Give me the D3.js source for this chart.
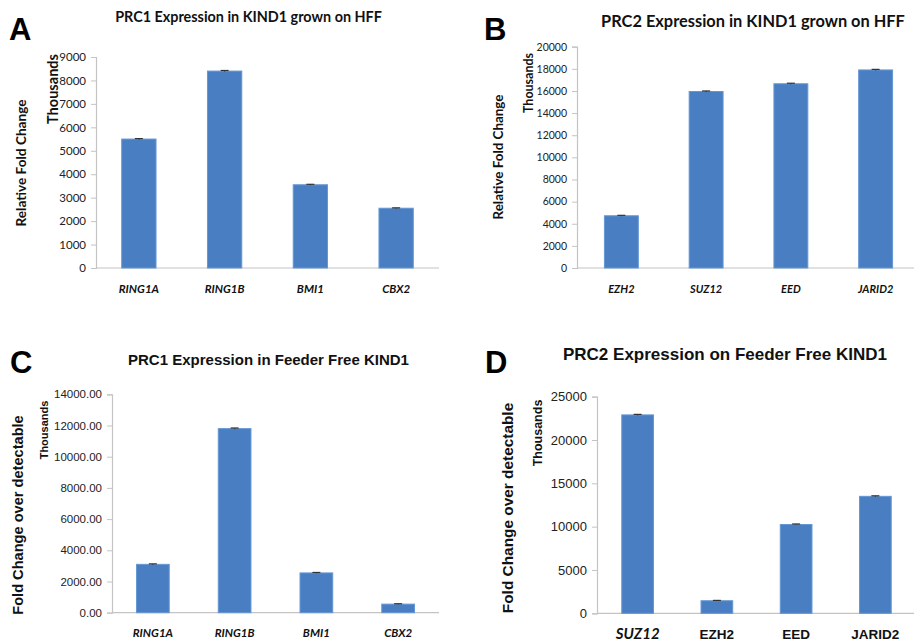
<!DOCTYPE html>
<html>
<head>
<meta charset="utf-8">
<script src="https://cdn.jsdelivr.net/npm/d3@7"></script>
<style>
  html, body { margin: 0; padding: 0; background: #fff; }
  svg { display: block; }
</style>
</head>
<body>
<svg id="chart" width="914" height="642"></svg>
<script>
// ---------- DATA ----------
const prc1HffGenes = ["RING1A", "RING1B", "BMI1", "CBX2"];
const prc1HffValues = [5500, 8400, 3550, 2550];
const prc1HffErrors = [20, 25, 20, 15];
const prc1HffTicks = [0, 1000, 2000, 3000, 4000, 5000, 6000, 7000, 8000, 9000];

const prc2HffGenes = ["EZH2", "SUZ12", "EED", "JARID2"];
const prc2HffValues = [4720, 15950, 16650, 17900];
const prc2HffErrors = [40, 50, 50, 50];
const prc2HffTicks = [0, 2000, 4000, 6000, 8000, 10000, 12000, 14000, 16000, 18000, 20000];

const prc1FfGenes = ["RING1A", "RING1B", "BMI1", "CBX2"];
const prc1FfValues = [3100, 11800, 2550, 550];
const prc1FfErrors = [30, 40, 30, 25];
const prc1FfTicks = [0, 2000, 4000, 6000, 8000, 10000, 12000, 14000];

const prc2FfGenes = ["SUZ12", "EZH2", "EED", "JARID2"];
const prc2FfValues = [22900, 1450, 10250, 13500];
const prc2FfErrors = [60, 40, 60, 60];
const prc2FfTicks = [0, 5000, 10000, 15000, 20000, 25000];

// ---------- STYLE / LAYOUT ----------
const BAR_FILL = "#4a7ec2";
const BAR_STROKE = "#6597d4";
const AXIS_COLOR = "#c4c4c4";
const CALIBRI = "Lato, 'Open Sans', sans-serif";
const ARIAL = "'Liberation Sans', Arial, sans-serif";

const svg = d3.select("#chart");

// scale font-size so the natural text width equals the target width
function fitWidth(sel, size, len) {
  if (!len) return;
  const w = sel.node().getComputedTextLength();
  if (w > 0) sel.style("font-size", (size * len / w).toFixed(2) + "px");
}

function panel(cfg) {
  const g = svg.append("g");
  const x = d3.scaleBand().domain(cfg.genes).range([cfg.x0, cfg.x1])
    .paddingInner(0.6).paddingOuter(0.3);
  const y = d3.scaleLinear().domain([0, cfg.ymax]).range([cfg.yBottom, cfg.yTop]);

  // y axis
  const yAxis = d3.axisLeft(y).tickValues(cfg.ticks).tickSize(5).tickPadding(5)
    .tickFormat(d3.format(cfg.fmt));
  const ya = g.append("g").attr("transform", `translate(${cfg.axisX},0)`).call(yAxis);
  ya.select(".domain").attr("stroke", AXIS_COLOR).attr("stroke-width", 1.2);
  ya.selectAll(".tick line").attr("stroke", AXIS_COLOR);
  ya.selectAll(".tick text").attr("fill", "#222")
    .style("font-family", cfg.tickFont).style("font-size", cfg.tickSize + "px");
  // x axis line
  g.append("line").attr("x1", cfg.axisX).attr("x2", cfg.x1)
    .attr("y1", y(0)).attr("y2", y(0))
    .attr("stroke", AXIS_COLOR).attr("stroke-width", 1.2);

  // bars
  g.selectAll("rect.bar").data(cfg.genes).join("rect").attr("class", "bar")
    .attr("x", d => x(d)).attr("width", x.bandwidth())
    .attr("y", (d, i) => y(cfg.values[i]))
    .attr("height", (d, i) => y(0) - y(cfg.values[i]))
    .attr("fill", BAR_FILL).attr("stroke", BAR_STROKE).attr("stroke-width", 1);

  // error bars
  cfg.genes.forEach((d, i) => {
    const cx = x(d) + x.bandwidth() / 2;
    const top = y(cfg.values[i] + cfg.errors[i]);
    const bot = y(cfg.values[i] - cfg.errors[i]);
    g.append("line").attr("x1", cx).attr("x2", cx).attr("y1", top).attr("y2", bot)
      .attr("stroke", "#333").attr("stroke-width", 1);
    g.append("line").attr("x1", cx - 4).attr("x2", cx + 4).attr("y1", top).attr("y2", top)
      .attr("stroke", "#333").attr("stroke-width", 1.2);
  });

  // x labels
  g.selectAll("text.xl").data(cfg.genes).join("text").attr("class", "xl")
    .attr("x", d => x(d) + x.bandwidth() / 2).attr("y", cfg.xLabelY)
    .attr("text-anchor", "middle")
    .style("font-family", (d, i) => cfg.xLabelStyle(i).font)
    .style("font-size", (d, i) => cfg.xLabelStyle(i).size + "px")
    .style("font-style", (d, i) => cfg.xLabelStyle(i).italic ? "italic" : "normal")
    .style("font-weight", "bold").attr("fill", "#111")
    .text(d => d);

  // title
  const t = g.append("text").attr("x", cfg.title.x).attr("y", cfg.title.y)
    .attr("text-anchor", "middle")
    .style("font-family", cfg.title.font).style("font-size", cfg.title.size + "px")
    .style("font-weight", "bold").attr("fill", "#111").text(cfg.title.text);
  fitWidth(t, cfg.title.size, cfg.title.len);

  // panel letter
  g.append("text").attr("x", cfg.letter.x).attr("y", cfg.letter.y)
    .style("font-family", ARIAL).style("font-size", "31px").style("font-weight", "bold")
    .attr("fill", "#000").text(cfg.letter.text);

  // rotated labels
  [cfg.yTitle, cfg.thousands].forEach(lb => {
    const tt = g.append("text")
      .attr("transform", `translate(${lb.x},${lb.y}) rotate(-90)`)
      .attr("text-anchor", "middle").attr("dominant-baseline", "central")
      .style("font-family", lb.font).style("font-size", lb.size + "px")
      .style("font-weight", "bold").attr("fill", "#111").text(lb.text);
    fitWidth(tt, lb.size, lb.len);
  });
}

// Panel A
panel({
  genes: prc1HffGenes, values: prc1HffValues, errors: prc1HffErrors, ticks: prc1HffTicks,
  ymax: 9000, fmt: "d", x0: 96, x1: 439, axisX: 96, yTop: 57, yBottom: 268,
  tickFont: CALIBRI, tickSize: 11.5, xLabelY: 293,
  xLabelStyle: () => ({ font: CALIBRI, size: 11.5, italic: true }),
  title: { text: "PRC1 Expression in KIND1 grown on HFF", x: 248.5, y: 22, size: 16, font: CALIBRI, len: 267 },
  letter: { text: "A", x: 9, y: 40 },
  yTitle: { text: "Relative Fold  Change", x: 21, y: 163, size: 12.5, font: CALIBRI, len: 127 },
  thousands: { text: "Thousands", x: 52, y: 89, size: 12.5, font: CALIBRI, len: 70 }
});

// Panel B
panel({
  genes: prc2HffGenes, values: prc2HffValues, errors: prc2HffErrors, ticks: prc2HffTicks,
  ymax: 20000, fmt: "d", x0: 579, x1: 918, axisX: 577, yTop: 46.7, yBottom: 268,
  tickFont: CALIBRI, tickSize: 10.5, xLabelY: 293,
  xLabelStyle: () => ({ font: CALIBRI, size: 11, italic: true }),
  title: { text: "PRC2 Expression in KIND1 grown on HFF", x: 753, y: 27, size: 18, font: CALIBRI, len: 304 },
  letter: { text: "B", x: 484, y: 40 },
  yTitle: { text: "Relative Fold Change", x: 498, y: 157, size: 12.5, font: CALIBRI, len: 125 },
  thousands: { text: "Thousands", x: 528, y: 83, size: 12, font: CALIBRI, len: 60 }
});

// Panel C
panel({
  genes: prc1FfGenes, values: prc1FfValues, errors: prc1FfErrors, ticks: prc1FfTicks,
  ymax: 14000, fmt: ".2f", x0: 112, x1: 439, axisX: 112, yTop: 394.3, yBottom: 612.7,
  tickFont: ARIAL, tickSize: 11.5, xLabelY: 637,
  xLabelStyle: () => ({ font: CALIBRI, size: 11.5, italic: true }),
  title: { text: "PRC1 Expression in Feeder Free KIND1", x: 268.5, y: 365, size: 15, font: ARIAL },
  letter: { text: "C", x: 10, y: 373 },
  yTitle: { text: "Fold Change over detectable", x: 18, y: 515, size: 14.6, font: ARIAL },
  thousands: { text: "Thousands", x: 44, y: 430, size: 11, font: ARIAL }
});

// Panel D
panel({
  genes: prc2FfGenes, values: prc2FfValues, errors: prc2FfErrors, ticks: prc2FfTicks,
  ymax: 25000, fmt: "d", x0: 598, x1: 915, axisX: 597, yTop: 396.7, yBottom: 613.3,
  tickFont: ARIAL, tickSize: 13, xLabelY: 639,
  xLabelStyle: i => i === 0 ? { font: CALIBRI, size: 15, italic: true } : { font: ARIAL, size: 13.5, italic: false },
  title: { text: "PRC2 Expression on Feeder Free KIND1", x: 725, y: 360, size: 17, font: ARIAL },
  letter: { text: "D", x: 485, y: 373 },
  yTitle: { text: "Fold Change over detectable", x: 507, y: 508, size: 15.4, font: ARIAL },
  thousands: { text: "Thousands", x: 538, y: 433, size: 12.5, font: ARIAL }
});
</script>
</body>
</html>
